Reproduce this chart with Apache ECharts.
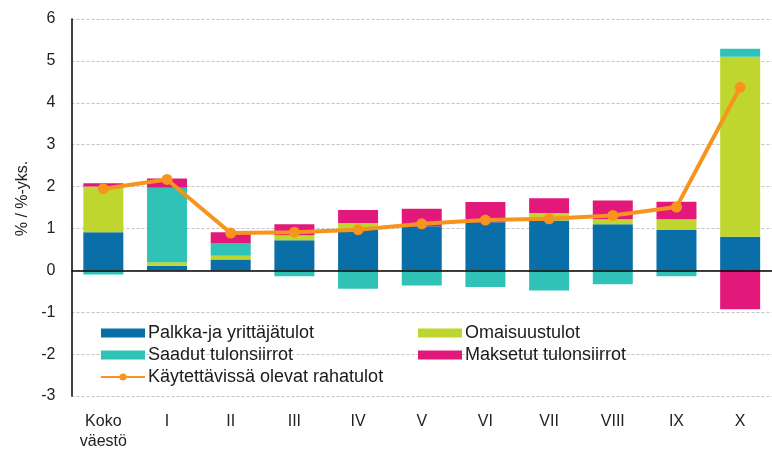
<!DOCTYPE html>
<html>
<head>
<meta charset="utf-8">
<script src="https://cdn.jsdelivr.net/npm/echarts@6/dist/echarts.min.js"></script>
<style>
  html, body { margin: 0; padding: 0; background: #fff; }
  #chart { width: 772px; height: 452px; }
</style>
</head>
<body>
<div id="chart"></div>
<script>
// tulodesiilit, muutos %-yks.
var categories = ['Koko\nväestö', 'I', 'II', 'III', 'IV', 'V', 'VI', 'VII', 'VIII', 'IX', 'X'];
var palkka = [0.91, 0.11, 0.26, 0.72, 0.96, 1.05, 1.15, 1.19, 1.10, 0.96, 0.80];
var omaisuus = [1.09, 0.08, 0.09, 0.12, 0.17, 0.00, 0.00, 0.18, 0.12, 0.26, 4.30];
var saadut = [-0.10, 1.78, 0.29, -0.14, -0.44, -0.36, -0.40, -0.48, -0.33, -0.14, 0.19];
var maksetut = [0.08, 0.22, 0.27, 0.26, 0.31, 0.42, 0.48, 0.35, 0.45, 0.42, -0.93];
var rahatulot = [1.95, 2.17, 0.89, 0.91, 0.97, 1.11, 1.20, 1.23, 1.31, 1.51, 4.37];
var yTicks = [-3, 6, 1]; // min, max, interval

var font = 'Arial, "Liberation Sans", sans-serif';
var chart = echarts.init(document.getElementById('chart'), null, { renderer: 'canvas' });

function barSeries(name, color, data) {
  return {
    name: name,
    type: 'bar',
    stack: 'tulot',
    barWidth: 40,
    itemStyle: { color: color },
    data: data
  };
}

var legendText = { fontFamily: font, fontSize: 18, color: '#1a1a1a', padding: [0, 0, 0, -2] };

var option = {
  backgroundColor: '#fff',
  animation: false,
  grid: { left: 71.5, right: -3, top: 19, bottom: 50.5 },
  legend: [
    {
      orient: 'vertical', left: 95, top: 319, itemWidth: 44, itemHeight: 9, itemGap: 4,
      textStyle: legendText,
      data: [
        { name: 'Palkka-ja yrittäjätulot', icon: 'rect' },
        { name: 'Saadut tulonsiirrot', icon: 'rect' },
        'Käytettävissä olevat rahatulot'
      ]
    },
    {
      orient: 'vertical', left: 413, top: 319, itemWidth: 44, itemHeight: 9, itemGap: 4,
      textStyle: legendText,
      data: [
        { name: 'Omaisuustulot', icon: 'rect' },
        { name: 'Maksetut tulonsiirrot', icon: 'rect' }
      ]
    }
  ],
  xAxis: {
    type: 'category',
    data: categories,
    axisLine: { show: false },
    axisTick: { show: false },
    axisLabel: { fontFamily: font, fontSize: 16, color: '#222', margin: 16, lineHeight: 20 }
  },
  yAxis: {
    type: 'value',
    min: yTicks[0],
    max: yTicks[1],
    interval: yTicks[2],
    name: '% / %-yks.',
    nameLocation: 'middle',
    nameGap: 40,
    nameTextStyle: { fontFamily: font, fontSize: 16, color: '#222', padding: [0, 0, 0, 18] },
    axisLine: { show: true, lineStyle: { color: '#000', width: 1.5 } },
    axisTick: { show: false },
    axisLabel: { fontFamily: font, fontSize: 16, color: '#222', margin: 16 },
    splitLine: { lineStyle: { color: '#c4c4c4', type: [3, 2], width: 1 } }
  },
  series: [
    {
      name: 'Palkka-ja yrittäjätulot',
      type: 'bar',
      stack: 'tulot',
      barWidth: 40,
      itemStyle: { color: '#0a6fa8' },
      data: palkka,
      // nollaviiva
      markLine: {
        silent: true,
        symbol: 'none',
        label: { show: false },
        lineStyle: { color: '#000', type: 'solid', width: 1.5 },
        data: [{ yAxis: 0 }]
      }
    },
    barSeries('Omaisuustulot', '#bfd62e', omaisuus),
    barSeries('Saadut tulonsiirrot', '#30c2b6', saadut),
    barSeries('Maksetut tulonsiirrot', '#e2187b', maksetut),
    {
      name: 'Käytettävissä olevat rahatulot',
      type: 'line',
      z: 5,
      data: rahatulot,
      symbol: 'circle',
      symbolSize: 11,
      lineStyle: { color: '#f7941d', width: 4 },
      itemStyle: { color: '#f7941d' }
    }
  ]
};

chart.setOption(option);
</script>
</body>
</html>
